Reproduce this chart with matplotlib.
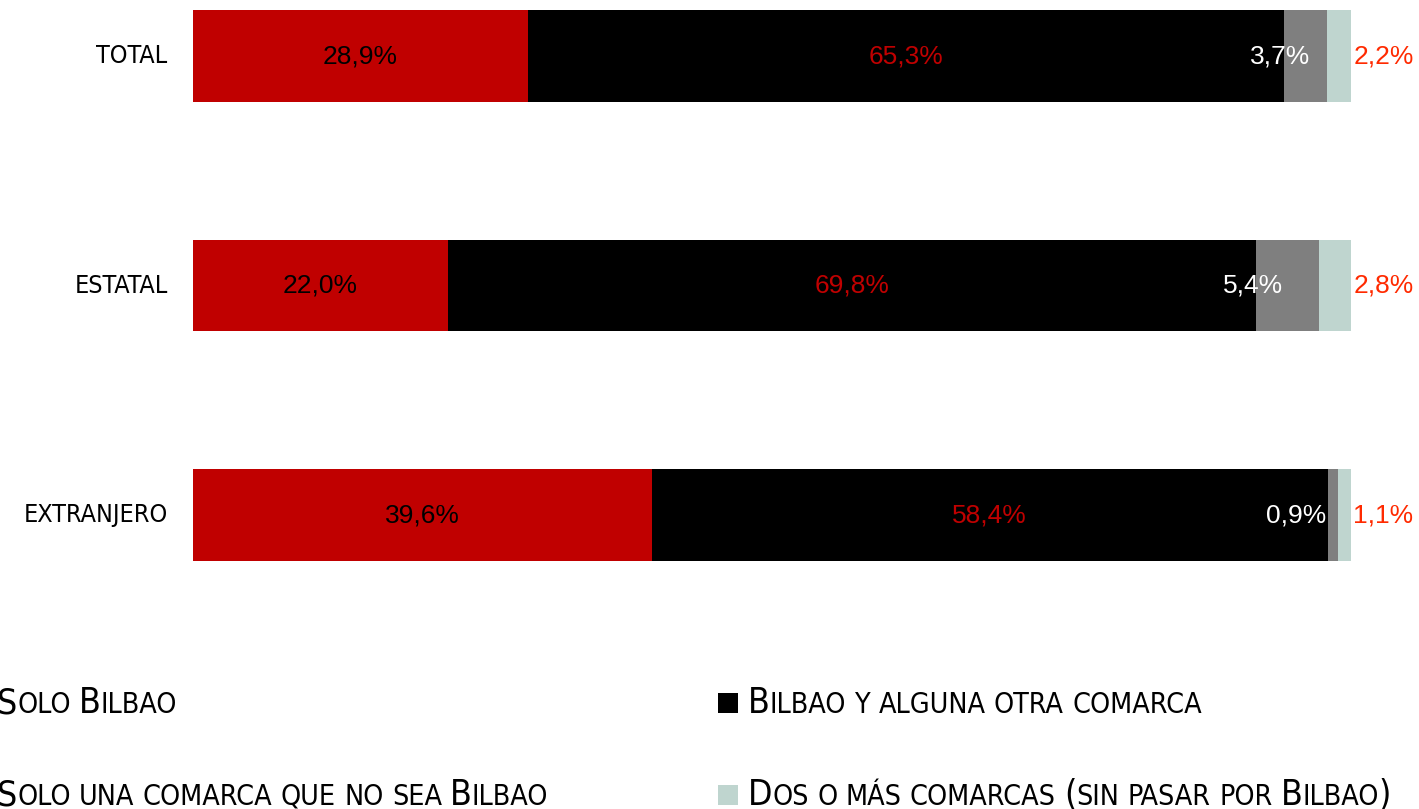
import numpy as np
import matplotlib
matplotlib.use("Agg")
import matplotlib.pyplot as plt
from matplotlib.patches import Rectangle
from matplotlib import font_manager

# data
categories = ["TOTAL", "ESTATAL", "EXTRANJERO"]
solo_bilbao = [28.9, 22.0, 39.6]
bilbao_otra = [65.3, 69.8, 58.4]
solo_una = [3.7, 5.4, 0.9]
dos_o_mas = [2.2, 2.8, 1.1]
series_names = ["Solo Bilbao", "Bilbao y alguna otra comarca",
                "Solo una comarca que no sea Bilbao",
                "Dos o más comarcas (sin pasar por Bilbao)"]

colors = ["#C00000", "#000000", "#7F7F7F", "#BFD5CF"]
VALFONT = ["Liberation Sans", "DejaVu Sans"]

# pick a condensed face if there is one
NARROW = dict(family=["Liberation Sans", "DejaVu Sans"], stretch="normal")
for fam in ["Liberation Sans Narrow", "DejaVu Sans"]:
    try:
        fp = font_manager.FontProperties(family=fam, stretch="condensed")
        path = font_manager.findfont(fp, fallback_to_default=False)
    except Exception:
        continue
    if "Narrow" in path or "Condensed" in path:
        NARROW = dict(family=[fam], stretch="condensed")
        break


def smallcaps(ax, x, y, s, big=25.5, small=20.5, color="black"):
    # fake small caps: draw runs one after the other
    words = s.split(" ")
    prev = None
    for wi, word in enumerate(words):
        runs = []
        for c in word:
            isbig = not c.islower()
            if runs and runs[-1][1] == isbig:
                runs[-1][0] += c.upper()
            else:
                runs.append([c.upper(), isbig])
        for ri, (txt, isbig) in enumerate(runs):
            size = big if isbig else small
            if prev is None:
                prev = ax.annotate(txt, xy=(x, y), xycoords="figure fraction",
                                   va="baseline", ha="left", fontsize=size,
                                   color=color, annotation_clip=False, **NARROW)
            else:
                gap = 6 if (ri == 0 and wi > 0) else 0
                prev = ax.annotate(txt, xy=(1, y), xycoords=(prev, "figure fraction"),
                                   xytext=(gap, 0), textcoords="offset points",
                                   va="baseline", ha="left", fontsize=size,
                                   color=color, annotation_clip=False, **NARROW)


W, H = 1419, 809
fig = plt.figure(figsize=(W / 100, H / 100), dpi=100)
ax = fig.add_axes([193 / W, (H - 600) / H, 1158 / W, 600 / H])

y = np.arange(len(categories))
h = 0.40
left = np.zeros(len(categories))
segments = [solo_bilbao, bilbao_otra, solo_una, dos_o_mas]
for vals, col in zip(segments, colors):
    ax.barh(y, vals, left=left, height=h, color=col, linewidth=0)
    left = left + np.array(vals)

ax.set_xlim(0, 100)
ax.set_ylim(2.370, -0.244)
ax.axis("off")

for i in range(len(categories)):
    s1, s2, s3, s4 = solo_bilbao[i], bilbao_otra[i], solo_una[i], dos_o_mas[i]
    ax.text(s1 / 2, i, f"{s1:.1f}%".replace(".", ","), ha="center", va="center",
            fontsize=19, family=VALFONT, color="black")
    ax.text(s1 + s2 / 2, i, f"{s2:.1f}%".replace(".", ","), ha="center", va="center",
            fontsize=19, family=VALFONT, color="#C00000")
    start3 = s1 + s2
    xr = min(start3 + 2.3, start3 + s3 - 1.0)
    ax.text(xr, i, f"{s3:.1f}%".replace(".", ","), ha="right", va="center",
            fontsize=19, family=VALFONT, color="white")
    ax.text(100.2, i, f"{s4:.1f}%".replace(".", ","), ha="left", va="center",
            fontsize=19, family=VALFONT, color="#FF2A00", clip_on=False)
    ax.text(-2.2, i, categories[i], ha="right", va="center",
            fontsize=18, color="black", **NARROW)

# legend (left column is cut by the canvas edge in the original)
leg_pos = [(-3 / W, (H - 713) / H), (748 / W, (H - 713) / H),
           (-3 / W, (H - 805) / H), (748 / W, (H - 805) / H)]
for (lx, ly), name, col in zip(leg_pos, series_names, colors):
    fig.patches.append(Rectangle((lx - 30 / W, ly), 20 / W, 20 / H,
                                 transform=fig.transFigure, facecolor=col,
                                 edgecolor="none"))
    smallcaps(ax, lx, ly, name)

fig.savefig("out.png", dpi=100)
